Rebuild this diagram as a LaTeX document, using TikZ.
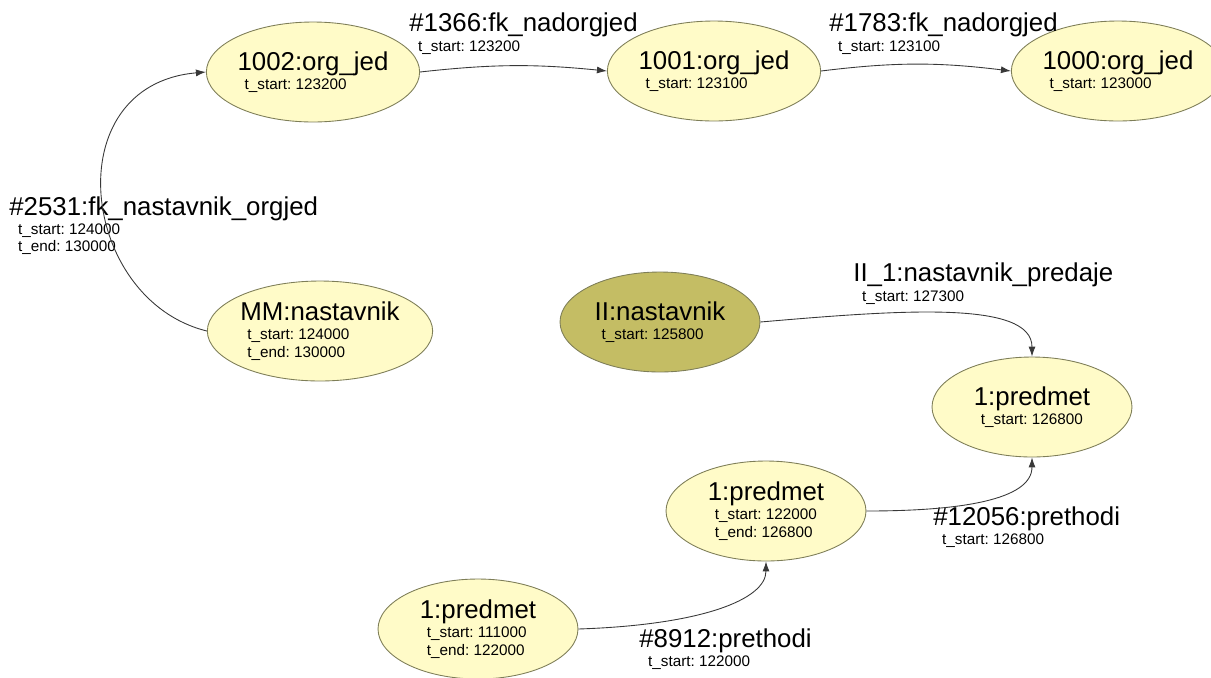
\documentclass[tikz,border=0pt]{standalone}
\usepackage{fontspec}
\setmainfont{Liberation Sans}
\usetikzlibrary{arrows.meta,shapes.geometric}
\definecolor{entyellow}{HTML}{FFFBC8}
\definecolor{entolive}{HTML}{C4BD64}
\definecolor{entborder}{HTML}{7E7E58}
\definecolor{linkgray}{HTML}{383838}
\newcommand{\nm}{\fontsize{14.7}{17}\selectfont}
\newcommand{\tm}{\fontsize{8.7}{10}\selectfont}
\frenchspacing
\tikzset{%
  >={Latex[width=1.4mm,length=2mm]},
  % Specifications for style of objects and links:
        entity/.style = {ellipse, draw=entborder, fill=entyellow,
                         minimum width=4cm, minimum height=2cm,
                         inner sep=0pt, align=left, font=\tm,
                         line width=0.5pt},
  entityActive/.style = {entity, fill=entolive},
      linkText/.style = {anchor=north west, inner sep=0pt,
                         align=left, font=\tm},
          link/.style = {->, draw=linkgray, line width=0.5pt},
}

\begin{document}
\begin{tikzpicture}[x=0.02cm, y=0.02cm]
  \useasboundingbox (0,0) rectangle (1211,-677);
  \clip (0,0) rectangle (1211,-677);

  % Specification of objects (position, etc.)
  \node (org1002) [entity] at (313,-72)
        {{\nm 1002:org\_jed}\\[1pt]\hspace*{4pt}t\_start: 123200};
  \node (org1001) [entity] at (714,-71)
        {{\nm 1001:org\_jed}\\[1pt]\hspace*{4pt}t\_start: 123100};
  \node (org1000) [entity] at (1118,-71)
        {{\nm 1000:org\_jed}\\[1pt]\hspace*{4pt}t\_start: 123000};
  \node (nastMM)  [entity] at (320,-331)
        {{\nm MM:nastavnik}\\[1pt]\hspace*{4pt}t\_start: 124000\\
         \hspace*{4pt}t\_end: 130000};
  \node (nastII)  [entityActive] at (660,-322)
        {{\nm II:nastavnik}\\[1pt]\hspace*{4pt}t\_start: 125800};
  \node (predTop) [entity] at (1032,-407)
        {{\nm 1:predmet}\\[1pt]\hspace*{4pt}t\_start: 126800};
  \node (predMid) [entity] at (766,-511)
        {{\nm 1:predmet}\\[1pt]\hspace*{4pt}t\_start: 122000\\
         \hspace*{4pt}t\_end: 126800};
  \node (predLow) [entity] at (478,-629)
        {{\nm 1:predmet}\\[1pt]\hspace*{4pt}t\_start: 111000\\
         \hspace*{4pt}t\_end: 122000};

  % texts of the links
  \node (relNad1) [linkText] at (409,-12.7)
        {{\nm \#1366:fk\_nadorgjed}\\[1pt]\hspace*{5pt}t\_start: 123200};
  \node (relNad2) [linkText] at (829,-12.7)
        {{\nm \#1783:fk\_nadorgjed}\\[1pt]\hspace*{5pt}t\_start: 123100};
  \node (relOrg)  [linkText] at (9,-196)
        {{\nm \#2531:fk\_nastavnik\_orgjed}\\[1pt]\hspace*{5pt}t\_start: 124000\\
         \hspace*{5pt}t\_end: 130000};
  \node (relPred) [linkText] at (853,-262.7)
        {{\nm II\_1:nastavnik\_predaje}\\[1pt]\hspace*{5pt}t\_start: 127300};
  \node (relPre1) [linkText] at (933,-506)
        {{\nm \#12056:prethodi}\\[1pt]\hspace*{5pt}t\_start: 126800};
  \node (relPre2) [linkText] at (639,-628)
        {{\nm \#8912:prethodi}\\[1pt]\hspace*{5pt}t\_start: 122000};

  % links between the objects
  \draw[link] (nastMM.west) .. controls (80,-300) and (55,-85) .. (org1002.west);
  \draw[link] (org1002.east) to[bend left=6] (org1001.west);
  \draw[link] (org1001.east) to[bend left=7] (org1000.west);
  \draw[link] (nastII.east) .. controls (900,-310) and (1032,-300) .. (predTop.north);
  \draw[link] (predMid.east) .. controls (960,-511) and (1032,-500) .. (predTop.south);
  \draw[link] (predLow.east) .. controls (700,-625) and (766,-600) .. (predMid.south);
\end{tikzpicture}
\end{document}
